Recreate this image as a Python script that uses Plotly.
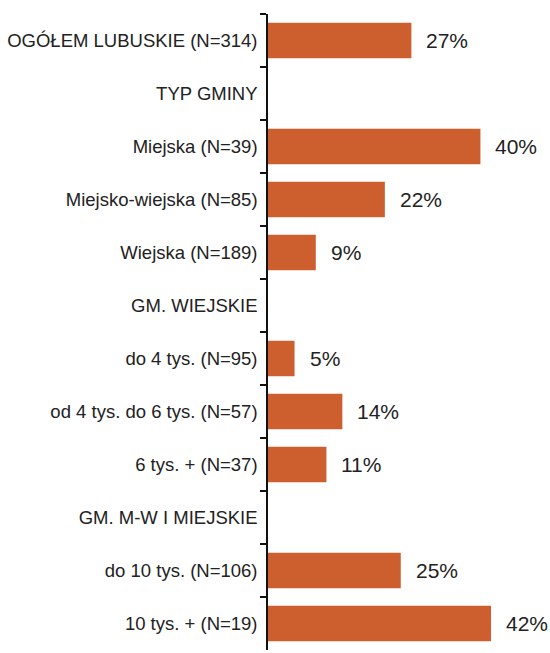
import plotly.graph_objects as go

categories = [
    "OGÓŁEM LUBUSKIE (N=314)",
    "TYP GMINY",
    "Miejska (N=39)",
    "Miejsko-wiejska (N=85)",
    "Wiejska (N=189)",
    "GM. WIEJSKIE",
    "do 4 tys. (N=95)",
    "od 4 tys. do 6 tys. (N=57)",
    "6 tys. + (N=37)",
    "GM. M-W I MIEJSKIE",
    "do 10 tys. (N=106)",
    "10 tys. + (N=19)",
]
values = [27, None, 40, 22, 9, None, 5, 14, 11, None, 25, 42]

bar_color = "#CD5F2F"
text_color = "#222222"
font_family = "Liberation Sans, Arial, sans-serif"

fig = go.Figure(
    go.Bar(
        x=values,
        y=categories,
        orientation="h",
        marker=dict(color=bar_color, line=dict(width=0)),
        width=0.67,
        hoverinfo="x+y",
    )
)

# value labels to the right of each bar
for cat, v in zip(categories, values):
    if v is None:
        continue
    fig.add_annotation(
        x=v, y=cat, text=f"{v}%", showarrow=False,
        xanchor="left", yanchor="middle", xshift=13,
        font=dict(family=font_family, size=21, color=text_color),
    )

fig.update_layout(
    width=550, height=653,
    margin=dict(l=268, r=0, t=14, b=3),
    paper_bgcolor="white", plot_bgcolor="white",
    showlegend=False,
    font=dict(family=font_family, size=18.5, color=text_color),
)
fig.update_xaxes(range=[0, 53.1], visible=False, showgrid=False, zeroline=False)
fig.update_yaxes(
    type="category",
    categoryorder="array", categoryarray=categories,
    autorange="reversed",
    showline=True, linecolor="#111111", linewidth=1.5,
    ticks="outside", ticklen=6, tickwidth=1.5, tickcolor="#111111",
    tickson="boundaries",
    ticklabelstandoff=5,
    showgrid=False, zeroline=False,
    tickfont=dict(size=18.5, color=text_color),
)

fig.write_html("out.html")
